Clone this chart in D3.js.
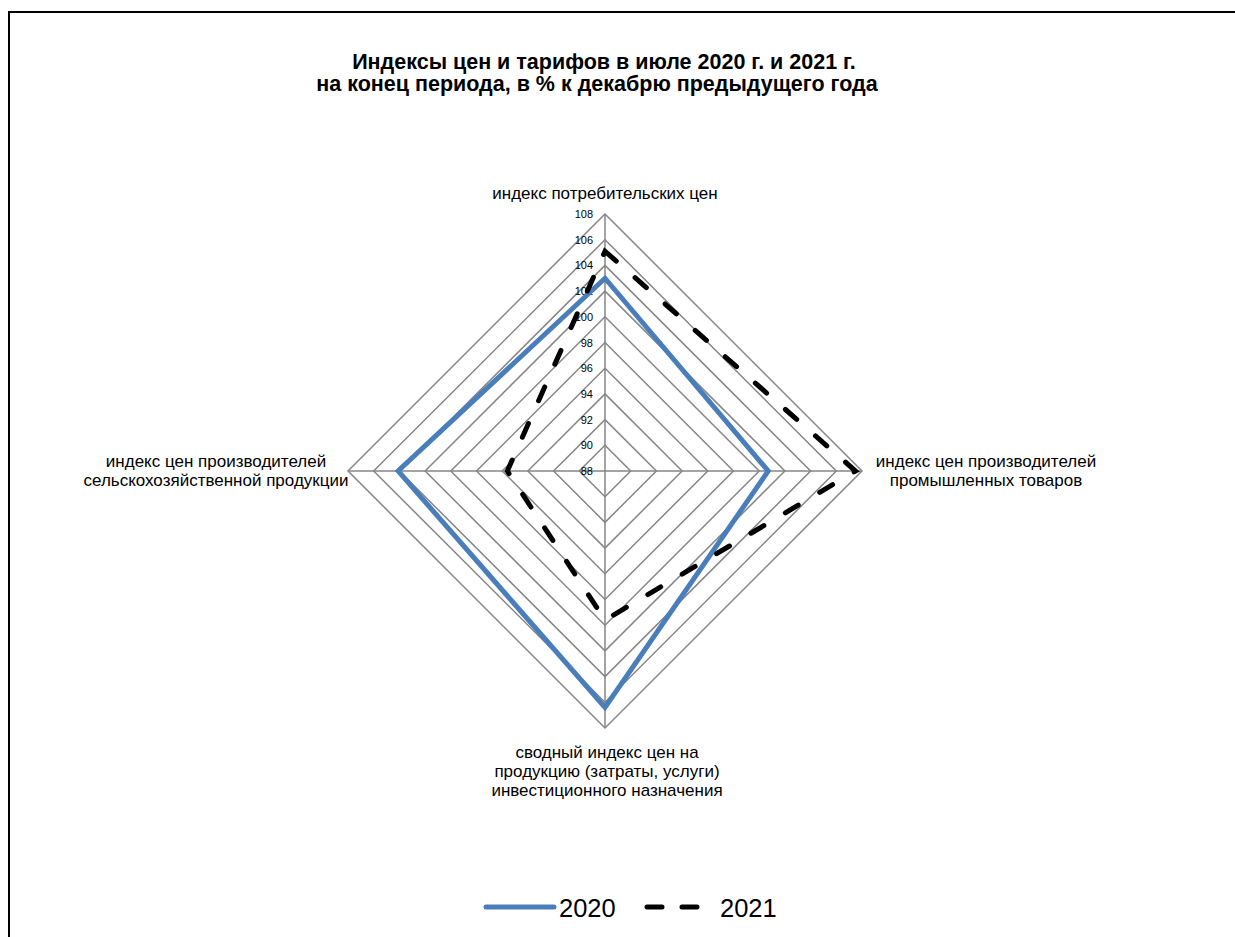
<!DOCTYPE html>
<html><head><meta charset="utf-8">
<script src="https://cdn.jsdelivr.net/npm/d3@7"></script>
<style>body{margin:0;background:#fff}svg{display:block}text{font-family:"Liberation Sans",Arial,sans-serif}</style>
</head><body>
<script>
const categories = [
  ["индекс потребительских цен"],
  ["индекс цен производителей", "промышленных товаров"],
  ["сводный индекс цен на", "продукцию (затраты, услуги)", "инвестиционного назначения"],
  ["индекс цен производителей", "сельскохозяйственной продукции"]
];
const values2020 = [103.0, 100.7, 106.4, 104.1];
const values2021 = [105.1, 107.5, 99.6, 95.6];
const tickValues = [88, 90, 92, 94, 96, 98, 100, 102, 104, 106, 108];
const seriesNames = ["2020", "2021"];

const W = 1235, H = 937;
const cx = 605, cy = 471, R = 257;
const svg = d3.select("body").append("svg").attr("width", W).attr("height", H);

svg.append("rect").attr("x", 9).attr("y", 12).attr("width", 1260).attr("height", 960)
  .attr("fill", "none").attr("stroke", "#000").attr("stroke-width", 2);

const title = svg.append("text").attr("text-anchor", "middle").attr("font-weight", "bold").attr("font-size", 21.5);
title.append("tspan").attr("x", 604).attr("y", 69).text("Индексы цен и тарифов в июле 2020 г. и 2021 г.");
title.append("tspan").attr("x", 597).attr("y", 91).text("на конец периода, в % к декабрю предыдущего года");

const r = d3.scaleLinear().domain([88, 108]).range([0, R]);
const n = categories.length;
const ang = i => -Math.PI / 2 + i * 2 * Math.PI / n;
const pt = (v, i) => [cx + r(v) * Math.cos(ang(i)), cy + r(v) * Math.sin(ang(i))];

const grid = svg.append("g");
tickValues.slice(1).forEach(t => {
  grid.append("path").attr("d", d3.line()(d3.range(n).map(i => pt(t, i))) + "Z")
    .attr("fill", "none").attr("stroke", "#868686").attr("stroke-width", 1.5);
});
d3.range(n).forEach(i => {
  const p = pt(108, i);
  grid.append("line").attr("x1", cx).attr("y1", cy).attr("x2", p[0]).attr("y2", p[1])
    .attr("stroke", "#868686").attr("stroke-width", 1.5);
});

// tick labels
svg.append("g").selectAll("text").data(tickValues).join("text")
  .attr("x", 593).attr("y", d => cy - r(d) + 4).attr("text-anchor", "end")
  .attr("font-size", 11).attr("fill", "#000").text(d => d);

// series
const line = d3.line();
svg.append("path").attr("d", line(values2020.map((v, i) => pt(v, i))) + "Z")
  .attr("fill", "none").attr("stroke", "#4a7ebb").attr("stroke-width", 5).attr("stroke-linejoin", "miter");
svg.append("path").attr("d", line(values2021.map((v, i) => pt(v, i))) + "Z")
  .attr("fill", "none").attr("stroke", "#000").attr("stroke-width", 5)
  .attr("stroke-dasharray", "15,25").attr("stroke-linecap", "round");

// category labels
const labelPos = [
  {x: 605, y: 199},
  {x: 986, y: 467},
  {x: 607, y: 758},
  {x: 216, y: 467}
];
categories.forEach((lines, i) => {
  const t = svg.append("text").attr("text-anchor", "middle").attr("font-size", 17);
  lines.forEach((l, k) => t.append("tspan").attr("x", labelPos[i].x).attr("y", labelPos[i].y + k * 19).text(l));
});

// legend
const lg = svg.append("g");
lg.append("line").attr("x1", 486).attr("x2", 554).attr("y1", 907).attr("y2", 907)
  .attr("stroke", "#4a7ebb").attr("stroke-width", 5).attr("stroke-linecap", "round");
lg.append("text").attr("x", 559).attr("y", 917).attr("font-size", 25.5).text(seriesNames[0]);
lg.append("line").attr("x1", 647).attr("x2", 700).attr("y1", 907).attr("y2", 907)
  .attr("stroke", "#000").attr("stroke-width", 5).attr("stroke-dasharray", "15,20").attr("stroke-linecap", "round");
lg.append("text").attr("x", 720).attr("y", 917).attr("font-size", 25.5).text(seriesNames[1]);
</script>
</body></html>
